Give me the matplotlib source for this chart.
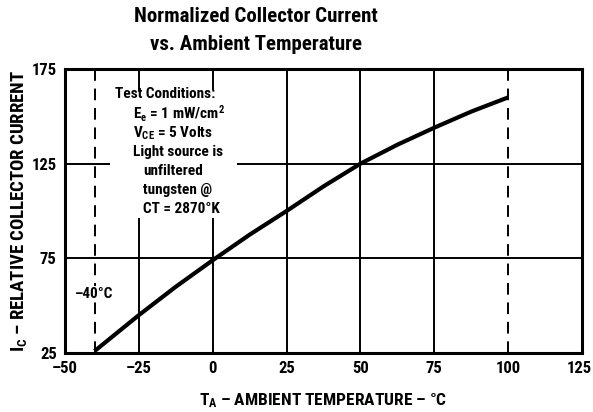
import matplotlib
matplotlib.use("Agg")
import matplotlib.pyplot as plt
from matplotlib.transforms import ScaledTranslation

# Data
temp_c = [-40, -25, -12.5, 0, 12.5, 25, 37.5, 50, 62.5, 75, 87.5, 100]
rel_current = [26, 45, 60, 74, 87.5, 100, 113, 125, 135, 144, 152.5, 160]
x_ticks = [-50, -25, 0, 25, 50, 75, 100, 125]
y_ticks = [25, 75, 125, 175]
solid_vlines = [-25, 0, 25, 50, 75]
dashed_vlines = [-40, 100]
hlines = [75, 125]

FONT = ['Roboto Condensed', 'DejaVu Sans']
plt.rcParams['font.family'] = FONT
plt.rcParams['font.weight'] = 'bold'
plt.rcParams['mathtext.fontset'] = 'custom'
plt.rcParams['mathtext.rm'] = 'Roboto Condensed:bold'
plt.rcParams['mathtext.bf'] = 'Roboto Condensed:bold'
plt.rcParams['mathtext.it'] = 'Roboto Condensed:bold'

W, H = 593, 412
fig = plt.figure(figsize=(W / 100, H / 100), dpi=100)
L, R, T, B = 65, 582, 69, 353
ax = fig.add_axes([L / W, 1 - B / H, (R - L) / W, (B - T) / H])
ax.set_xlim(-50, 125)
ax.set_ylim(25, 175)

for v in solid_vlines:
    ax.axvline(v, color='black', lw=1.4, zorder=1)
for v in dashed_vlines:
    ax.axvline(v, color='black', lw=1.4, ls=(0, (6, 4)), zorder=1)
for h in hlines:
    ax.axhline(h, color='black', lw=1.4, zorder=1)

ax.plot(temp_c, rel_current, color='black', lw=3.0, solid_capstyle='butt', zorder=3)

for s in ax.spines.values():
    s.set_linewidth(2.2)

ax.set_xticks(x_ticks)
ax.set_yticks(y_ticks)
ax.set_xticklabels([str(t).replace('-', '\u2013') for t in x_ticks])
ax.tick_params(length=0, labelsize=12, pad=6)
for lab in ax.get_xticklabels() + ax.get_yticklabels():
    lab.set_fontweight('heavy')
last = ax.get_xticklabels()[-1]
last.set_transform(last.get_transform() + ScaledTranslation(-3 / 100, 0, fig.dpi_scale_trans))

ax.set_xlabel('T$_\\mathregular{A}$ \u2013 AMBIENT TEMPERATURE \u2013 \u00b0C',
              fontsize=12.5, fontweight='heavy', labelpad=11)
ax.set_ylabel('I$_\\mathregular{C}$ \u2013 RELATIVE COLLECTOR CURRENT',
              fontsize=13.5, fontweight='heavy', labelpad=2)

# Title
fig.text(256 / W, 1 - 16 / H, 'Normalized Collector Current', ha='center', va='center',
         fontsize=15, fontweight='heavy')
fig.text(256 / W, 1 - 44 / H, 'vs. Ambient Temperature', ha='center', va='center',
         fontsize=15, fontweight='heavy')

# White box behind test conditions
def px2data(px, py):
    x = -50 + (px - L) / (R - L) * 175
    y = 175 - (py - T) / (B - T) * 150
    return x, y

x0, y1 = px2data(110, 90)
x1, y0 = px2data(237, 218)
ax.add_patch(plt.Rectangle((x0, y0), x1 - x0, y1 - y0, facecolor='white',
                           edgecolor='none', zorder=2))

lines = [
    (115, 94, 'Test Conditions:'),
    (133, 114, 'E$_\\mathregular{e}$ = 1 mW/cm$^\\mathregular{2}$'),
    (133, 133, 'V$_\\mathregular{CE}$ = 5 Volts'),
    (133, 152, 'Light source is'),
    (143, 171, 'unfiltered'),
    (143, 190, 'tungsten @'),
    (143, 209, 'CT = 2870\u00b0K'),
]
for px, py, s in lines:
    fig.text(px / W, 1 - py / H, s, ha='left', va='center', fontsize=11,
             fontweight='heavy', zorder=5)

# -40°C label
xl, yl = px2data(94, 294)
ax.text(xl, yl, '\u201340\u00b0C', ha='center', va='center', fontsize=11,
        fontweight='heavy', zorder=4,
        bbox=dict(facecolor='white', edgecolor='none', pad=1))

fig.savefig('out.png', dpi=100)
